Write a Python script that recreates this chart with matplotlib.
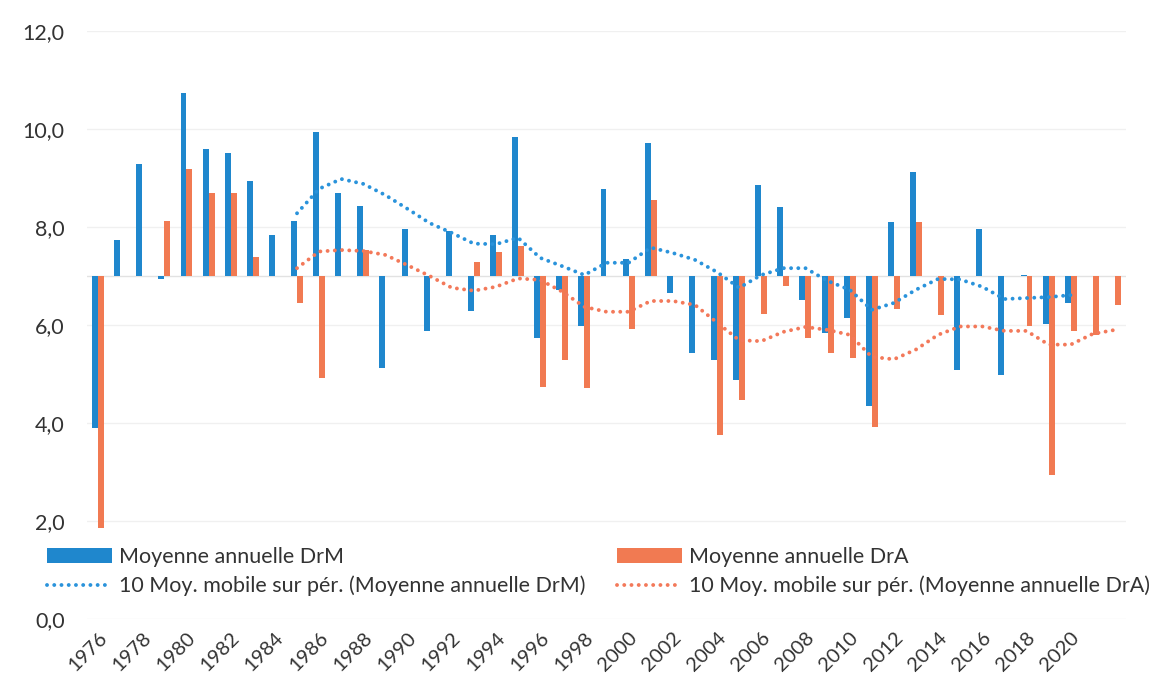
import numpy as np
import matplotlib
matplotlib.use("Agg")
import matplotlib.pyplot as plt
from matplotlib.ticker import FuncFormatter

# Années (catégories)
years = list(range(1976, 2023))

# Moyenne annuelle DrM (barres bleues), nan = pas de donnée
drm = [3.90, 7.73, 9.28, 6.93, 10.73, 9.59, 9.51, 8.94, 7.83, 8.12,
       9.94, 8.69, 8.43, 5.12, 7.96, 5.88, 7.92, 6.29, 7.84, 9.84,
       5.73, 6.71, 5.98, 8.78, 7.34, 9.71, 6.65, 5.43, 5.29, 4.88,
       8.86, 8.40, 6.51, 5.84, 6.14, 4.35, 8.10, 9.12, 7.00, 5.08,
       7.96, 4.98, 7.03, 6.02, 6.45, np.nan, np.nan]

# Moyenne annuelle DrA (barres orange)
dra = [1.86, 7.00, 7.00, 8.12, 9.18, 8.69, 8.69, 7.39, 7.00, 6.45,
       4.92, 7.00, 7.53, 7.00, 7.00, 7.00, 7.00, 7.29, 7.49, 7.61,
       4.73, 5.29, 4.71, 7.00, 5.92, 8.55, 7.00, 7.00, 3.76, 4.47,
       6.22, 6.80, 5.73, 5.43, 5.33, 3.92, 6.33, 8.10, 6.20, 7.00,
       7.00, 7.00, 5.98, 2.94, 5.88, 5.80, 6.41]

# moyennes mobiles sur 10 périodes (à partir de 1985)
mm_drm = [8.28, 8.78, 8.98, 8.88, 8.65, 8.37, 8.08, 7.88, 7.66, 7.65,
          7.78, 7.37, 7.20, 7.02, 7.27, 7.27, 7.58, 7.47, 7.33, 7.08,
          6.76, 7.02, 7.16, 7.16, 6.90, 6.72, 6.31, 6.45, 6.72, 6.94,
          6.93, 6.78, 6.53, 6.55, 6.57, 6.61]
mm_dra = [7.16, 7.50, 7.53, 7.51, 7.43, 7.22, 7.00, 6.76, 6.70, 6.78,
          6.95, 6.92, 6.68, 6.37, 6.27, 6.27, 6.49, 6.49, 6.41, 6.05,
          5.69, 5.67, 5.86, 5.96, 5.90, 5.80, 5.35, 5.30, 5.50, 5.80,
          5.97, 5.97, 5.88, 5.88, 5.60, 5.60, 5.82, 5.90]

base = 7.0
blue = "#1F87CD"
orange = "#F17A52"
txt = "#333333"
fs = 15.5

plt.rcParams['font.family'] = ['Lato', 'DejaVu Sans']

fig = plt.figure(figsize=(11.57, 6.83), dpi=100)
ax = fig.add_axes([0.0752, 0.0937, 0.898, 0.8609])

x = np.arange(len(years))
w = 0.27
h_drm = np.array(drm) - base
h_dra = np.array(dra) - base
b1 = ax.bar(x - w / 2, h_drm, w, bottom=base, color=blue, zorder=3,
            label="Moyenne annuelle DrM")
b2 = ax.bar(x + w / 2, h_dra, w, bottom=base, color=orange, zorder=3,
            label="Moyenne annuelle DrA")

dots = (0, (0.01, 1.85))
i0 = years.index(1985)
l1, = ax.plot(x[i0:i0 + len(mm_drm)], mm_drm, color="#2A93DB", lw=2.8,
              linestyle=dots, dash_capstyle='round', zorder=4,
              label="10 Moy. mobile sur pér. (Moyenne annuelle DrM)")
l2, = ax.plot(x[i0:i0 + len(mm_dra)], mm_dra, color="#F3795A", lw=2.8,
              linestyle=dots, dash_capstyle='round', zorder=4,
              label="10 Moy. mobile sur pér. (Moyenne annuelle DrA)")

ax.axhline(base, color="#e2e2e2", lw=1, zorder=2)
ax.set_ylim(0, 12)
ax.set_xlim(-0.5, len(years) - 0.5)
ax.set_yticks(np.arange(0, 13, 2))
ax.yaxis.set_major_formatter(FuncFormatter(lambda v, p: f"{v:.1f}".replace(".", ",")))
ax.grid(axis='y', color="#f0f0f0", lw=1, zorder=0)

lab_idx = [i for i, y in enumerate(years) if y % 2 == 0 and y <= 2020]
ax.set_xticks(lab_idx)
ax.set_xticklabels([str(years[i]) for i in lab_idx], rotation=45, ha='right',
                   rotation_mode='anchor')
ax.tick_params(axis='both', length=0, labelsize=fs, colors=txt)
ax.tick_params(axis='x', pad=7, labelsize=14.5)
ax.tick_params(axis='y', pad=16)
for s in ax.spines.values():
    s.set_visible(False)

fig.legend([b1, l1, b2, l2],
           [b1.get_label(), l1.get_label(), b2.get_label(), l2.get_label()],
           ncol=2, loc='upper left', bbox_to_anchor=(0.024, 0.228),
           frameon=False, fontsize=fs, labelcolor=txt, handlelength=3.0,
           handletextpad=0.35, columnspacing=1.45, labelspacing=0.42)

fig.savefig("out.png", dpi=100)
